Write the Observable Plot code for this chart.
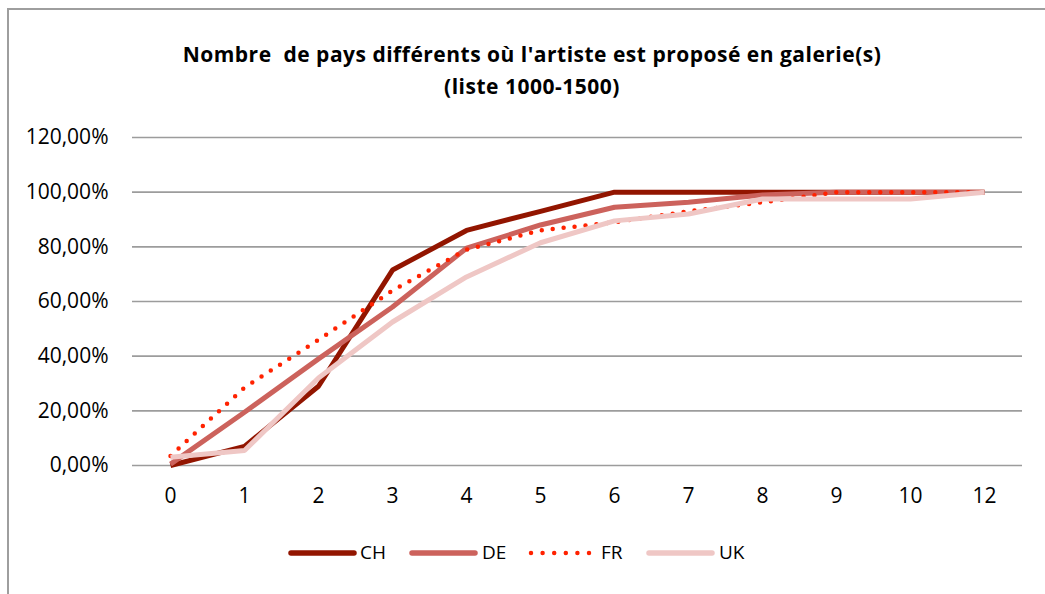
<!DOCTYPE html>
<html>
<head>
<meta charset="utf-8">
<script src="https://cdn.jsdelivr.net/npm/d3@7"></script>
<script src="https://cdn.jsdelivr.net/npm/@observablehq/plot@0.6"></script>
<style>
  html, body { margin: 0; padding: 0; background: #fff; }
  #wrap { position: relative; width: 1045px; height: 594px; overflow: hidden; font-family: "Open Sans", Lato, sans-serif; }
  #frame { position: absolute; left: 7px; top: 8px; width: 1100px; height: 700px; border-left: 2px solid #9e9e9e; border-top: 2px solid #9e9e9e; }
  #title { position: absolute; left: 0; width: 1064px; top: 38px; text-align: center; font-weight: bold; font-size: 21px; letter-spacing: 0.5px; line-height: 32px; color: #000; }
  #chart { position: absolute; left: 0; top: 0; }
  #legend { position: absolute; top: 0; left: 0; width: 1045px; height: 594px; pointer-events: none; }
  .lbl { position: absolute; top: 539px; font-size: 19px; line-height: 26px; color: #000; }
  .sw { position: absolute; top: 540px; }
</style>
</head>
<body>
<div id="wrap">
  <div id="frame"></div>
  <div id="title">Nombre&nbsp; de pays différents où l'artiste est proposé en galerie(s)<br>(liste 1000-1500)</div>
  <div id="chart"></div>
  <div id="legend"></div>
</div>
<script>
const categories = ["0", "1", "2", "3", "4", "5", "6", "7", "8", "9", "10", "12"];
const seriesNames = ["CH", "DE", "FR", "UK"];
const CH = [0.000, 0.070, 0.290, 0.715, 0.860, 0.930, 1.000, 1.000, 1.000, 1.000, 1.000, 1.000];
const DE = [0.005, 0.195, 0.390, 0.580, 0.795, 0.880, 0.945, 0.963, 0.990, 1.000, 1.000, 1.000];
const FR = [0.035, 0.285, 0.460, 0.640, 0.790, 0.860, 0.890, 0.930, 0.963, 1.000, 1.000, 1.000];
const UK = [0.030, 0.055, 0.320, 0.525, 0.690, 0.815, 0.895, 0.920, 0.975, 0.975, 0.975, 1.000];
const yTicks = [0, 0.2, 0.4, 0.6, 0.8, 1.0, 1.2];

const seriesValues = {CH, DE, FR, UK};
const styles = {
  CH: {stroke: "#921500", strokeWidth: 5, strokeLinecap: "butt"},
  DE: {stroke: "#cc625c", strokeWidth: 5, strokeLinecap: "butt"},
  FR: {stroke: "#ff2200", strokeWidth: 4.5, strokeLinecap: "round", strokeDasharray: "0 11"},
  UK: {stroke: "#efc7c5", strokeWidth: 5, strokeLinecap: "butt"}
};

const fmt = d => (d * 100).toFixed(2).replace(".", ",") + "%";

const lineMarks = seriesNames.map(name => {
  const data = categories.map((c, i) => ({x: c, y: seriesValues[name][i]}));
  return Plot.line(data, {x: "x", y: "y", strokeLinejoin: "miter", ...styles[name]});
});

const plot = Plot.plot({
  width: 1045,
  height: 520,
  marginTop: 137,
  marginBottom: 55,
  marginLeft: 132,
  marginRight: 23,
  style: {fontFamily: "'Open Sans', Lato, sans-serif", fontSize: "21px", color: "#000", background: "transparent"},
  x: {type: "point", domain: categories, padding: 0.5, label: null},
  y: {domain: [0, 1.2], label: null},
  marks: [
    Plot.ruleY(yTicks, {stroke: "#9c9c9c", strokeWidth: 1.6}),
    Plot.axisY(yTicks, {tickSize: 0, tickPadding: 24, tickFormat: fmt, label: null, fontSize: 21}),
    Plot.axisX(categories, {tickSize: 0, tickPadding: 23, label: null, fontSize: 21}),
    ...lineMarks
  ]
});
document.getElementById("chart").appendChild(plot);

// legend
const swatchX = {CH: 289, DE: 410, FR: 531, UK: 647};
const labelX = {CH: 360, DE: 482, FR: 601, UK: 719};
const legend = document.getElementById("legend");
seriesNames.forEach(name => {
  const s = styles[name];
  const svg = d3.create("svg").attr("class", "sw").attr("width", 72).attr("height", 26)
    .style("left", (swatchX[name] - 3) + "px");
  if (name === "FR") {
    svg.append("line").attr("x1", 3).attr("x2", 63).attr("y1", 13).attr("y2", 13)
      .attr("stroke", s.stroke).attr("stroke-width", s.strokeWidth)
      .attr("stroke-linecap", "round").attr("stroke-dasharray", "0 11.6");
  } else {
    svg.append("line").attr("x1", 5).attr("x2", 68).attr("y1", 13).attr("y2", 13)
      .attr("stroke", s.stroke).attr("stroke-width", 5.5).attr("stroke-linecap", "round");
  }
  legend.appendChild(svg.node());
  const span = document.createElement("div");
  span.className = "lbl";
  span.style.left = labelX[name] + "px";
  span.textContent = name;
  legend.appendChild(span);
});
</script>
</body>
</html>
